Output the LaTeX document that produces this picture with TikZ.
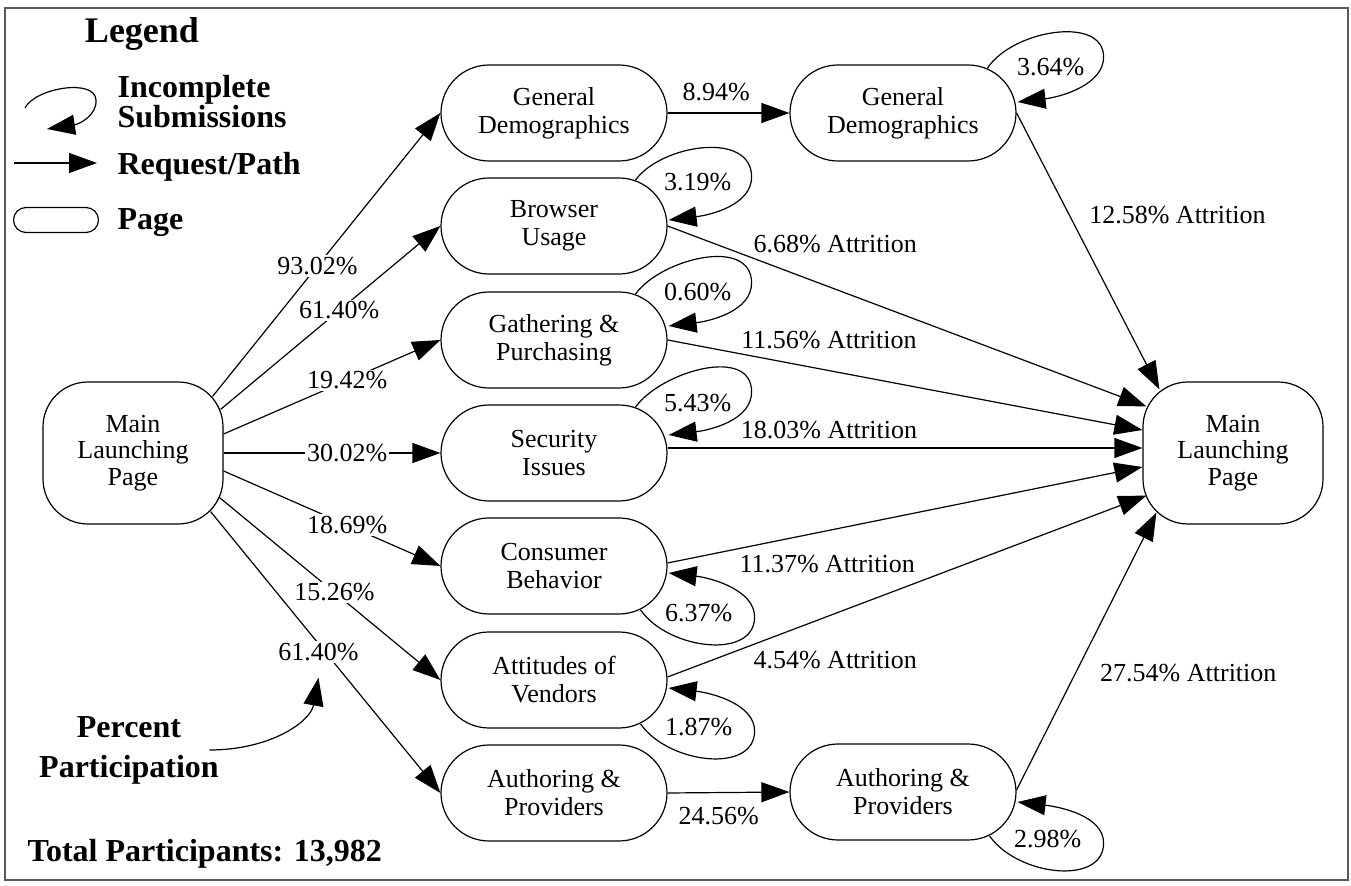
\documentclass[tikz,border=0pt]{standalone}
\usepackage{fontspec}
\setmainfont{Liberation Serif}
\usetikzlibrary{arrows.meta}

\begin{document}
\begin{tikzpicture}[x=0.5pt, y=-0.5pt, line width=0.6pt,
    font=\fontsize{13}{14}\selectfont,
    arr/.style={-{Triangle[length=14pt, width=10pt]}},
    page/.style={draw, rounded corners=24pt, minimum width=113pt, minimum height=48pt, align=center, inner sep=2pt},
    mainpage/.style={draw, rounded corners=22.5pt, minimum width=90pt, minimum height=71pt, align=center, font=\fontsize{13}{13.3}\selectfont},
    lbl/.style={fill=white, inner sep=1pt},
    note/.style={inner sep=1pt},
    legtxt/.style={font=\fontsize{16}{15}\selectfont\bfseries, inner sep=0pt}]
  \useasboundingbox (0,0) rectangle (1351,886);
  \draw[black!65, line width=1pt] (5,8) rectangle (1348,880);

  % legend
  \node[legtxt, font=\fontsize{18}{18}\selectfont\bfseries, anchor=base] (legend) at (142,43) {Legend};
  \node[legtxt, anchor=west, align=left] (legloop) at (117,102) {Incomplete\\Submissions};
  \node[legtxt, anchor=base west] (legpath) at (117,175) {Request/Path};
  \node[legtxt, anchor=base west] (legpage) at (117,230) {Page};
  \coordinate (lgA) at (25,108);
  \coordinate (lgB) at (47,129);
  \draw[arr] (lgA) .. controls (35,88) and (95,78) .. (96,100) .. controls (97,115) and (80,124) .. (lgB);
  \coordinate (lgC) at (14,163);
  \coordinate (lgD) at (97,163);
  \draw[arr] (lgC) -- (lgD);
  \node[draw, rounded corners=6.25pt, minimum width=42.5pt, minimum height=12.5pt, inner sep=0pt] (lgpill) at (56,220) {};

  % pages
  \node[mainpage] (mainL) at (133,453) {Main\\Launching\\Page};
  \node[mainpage] (mainR) at (1233,453) {Main\\Launching\\Page};
  \node[page] (gd1) at (554,113) {General\\Demographics};
  \node[page] (bu) at (554,226) {Browser\\Usage};
  \node[page] (ga) at (554,340) {Gathering \&\\Purchasing};
  \node[page] (se) at (554,453) {Security\\Issues};
  \node[page] (cb) at (554,566) {Consumer\\Behavior};
  \node[page] (av) at (554,680) {Attitudes of\\Vendors};
  \node[page] (ap1) at (554,793) {Authoring \&\\Providers};
  \node[page] (gd2) at (903,113) {General\\Demographics};
  \node[page] (ap2) at (903,792) {Authoring \&\\Providers};

  % requests from the launching page
  \draw[arr] ([shift={(-11,15)}]mainL.north east) -- node[lbl, pos=.46] (p1) {93.02\%} (gd1.west);
  \draw[arr] ([shift={(-3,28)}]mainL.north east) -- node[lbl, pos=.54] (p2) {61.40\%} (bu.west);
  \draw[arr] ([shift={(0,-19)}]mainL.east) -- node[lbl, pos=.57] (p3) {19.42\%} (ga.west);
  \draw[arr] (mainL.east) -- node[lbl, pos=.57] (p4) {30.02\%} (se.west);
  \draw[arr] ([shift={(0,18)}]mainL.east) -- node[lbl, pos=.57] (p5) {18.69\%} (cb.west);
  \draw[arr] ([shift={(-4,-27)}]mainL.south east) -- node[lbl, pos=.52] (p6) {15.26\%} (av.west);
  \draw[arr] ([shift={(-13,-13)}]mainL.south east) -- node[lbl, pos=.5, xshift=-3.5pt] (p7) {61.40\%} (ap1.west);

  % second pages
  \draw[arr] (gd1.east) -- node[note, pos=.4, yshift=10.5pt] (p8) {8.94\%} (gd2.west);
  \draw[arr] (ap1.east) -- node[note, pos=.42, yshift=-11.5pt] (p9) {24.56\%} (ap2.west);

  % attrition
  \draw[arr] (gd2.east) -- node[note, pos=.37, xshift=54pt] (a1) {12.58\% Attrition} ([shift={(17,8)}]mainR.north west);
  \draw[arr] (bu.east) -- node[note, pos=.35, yshift=22.5pt] (a2) {6.68\% Attrition} ([shift={(4,25)}]mainR.north west);
  \draw[arr] (ga.east) -- node[note, pos=.34, yshift=15.5pt] (a3) {11.56\% Attrition} ([shift={(0,-23)}]mainR.west);
  \draw[arr] ([shift={(0,-5)}]se.east) -- node[note, pos=.34, yshift=9pt] (a4) {18.03\% Attrition} ([shift={(0,-5)}]mainR.west);
  \draw[arr] ([shift={(0,-3)}]cb.east) -- node[note, pos=.336, yshift=-16.5pt] (a5) {11.37\% Attrition} ([shift={(0,14)}]mainR.west);
  \draw[arr] ([shift={(0,-3)}]av.east) -- node[note, pos=.35, yshift=-23.5pt] (a6) {4.54\% Attrition} ([shift={(4,-29)}]mainR.south west);
  \draw[arr] ([shift={(0,-2)}]ap2.east) -- node[note, pos=.42, xshift=56.5pt] (a7) {27.54\% Attrition} ([shift={(14,-12)}]mainR.south west);

  % incomplete submissions
  \foreach \n/\v/\d in {bu/3.19/0, ga/0.60/-8, se/5.43/-12} {
    \draw[arr] ([shift={(-32,-46)}]\n.east) .. controls +(25,-35) and +(0,-47) .. ([shift={(84,{\d-49})}]\n.east)
      .. controls +(0,28) and +(42,-5) .. ([shift={(1,{\d-6})}]\n.east);
    \node[note] (l\n) at ([shift={(30,{\d/2-44})}]\n.east) {\v\%};
  }
  \draw[arr] ([shift={(-29,-45)}]gd2.east) .. controls +(25,-38) and +(0,-42) .. ([shift={(87,-56)}]gd2.east)
    .. controls +(0,28) and +(43,-5) .. ([shift={(1,-11)}]gd2.east);
  \node[note] (lgd2) at ([shift={(34,-46)}]gd2.east) {3.64\%};
  \foreach \n/\v/\t in {cb/6.37/7, av/1.87/8, ap2/2.98/10} {
    \draw[arr] ([shift={(-27,44)}]\n.east) .. controls +(28,40) and +(0,43) .. ([shift={(87,51)}]\n.east)
      .. controls +(0,-27) and +(43,5) .. ([shift={(1,\t)}]\n.east);
    \node[note] (l\n) at ([shift={(31,47)}]\n.east) {\v\%};
  }

  % percent participation
  \node[legtxt, align=center, font=\fontsize{16}{20}\selectfont\bfseries] (pp) at (129,750) {Percent\\Participation};
  \draw[arr] ([shift={(-10,0)}]pp.east) .. controls +(61,0) and +(-8,44) .. ([yshift=-7pt]p7.south);
  \node[legtxt, anchor=base west] (total) at (27,862) {Total Participants: 13,982};
\end{tikzpicture}
\end{document}
